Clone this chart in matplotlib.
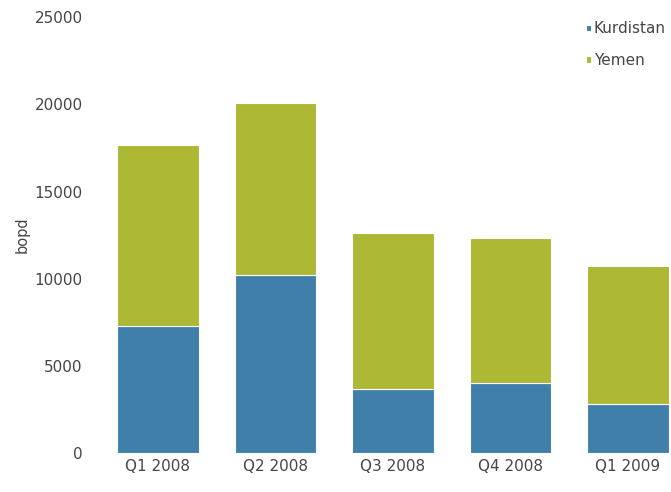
import matplotlib.pyplot as plt

quarters = ['Q1 2008', 'Q2 2008', 'Q3 2008', 'Q4 2008', 'Q1 2009']
kurdistan = [7300, 10200, 3700, 4050, 2800]
yemen_total = [17700, 20100, 12600, 12350, 10750]
yemen = [t - k for t, k in zip(yemen_total, kurdistan)]

blue = '#3f7fa9'
green = '#adb834'
grey = '#464646'

plt.rcParams['font.family'] = ['DejaVu Sans']

fig = plt.figure(figsize=(6.71, 4.92), dpi=100)
ax = fig.add_axes([0.14, 0.079, 0.86, 0.886])

x = range(len(quarters))
ax.bar(x, kurdistan, width=0.69, color=blue, edgecolor='white', linewidth=0.8, label='Kurdistan')
ax.bar(x, yemen, width=0.69, bottom=kurdistan, color=green, edgecolor='white', linewidth=0.8, label='Yemen')

ax.set_xlim(-0.545, 4.366)
ax.set_ylim(0, 25000)
ax.set_yticks(range(0, 25001, 5000))
ax.set_xticks(list(x))
ax.set_xticklabels(quarters)
ax.tick_params(length=0, labelsize=11, colors=grey, pad=8)
ax.tick_params(axis='x', pad=4)
ax.set_ylabel('bopd', fontsize=10.5, color=grey, labelpad=4)
for s in ax.spines.values():
    s.set_visible(False)

leg = ax.legend(loc='upper right', bbox_to_anchor=(1.015, 1.022), frameon=False,
                prop={'size': 11}, handlelength=0.3, handleheight=0.3,
                handletextpad=0.2, labelspacing=1.1, labelcolor=grey)

fig.savefig('out.png', dpi=100)
